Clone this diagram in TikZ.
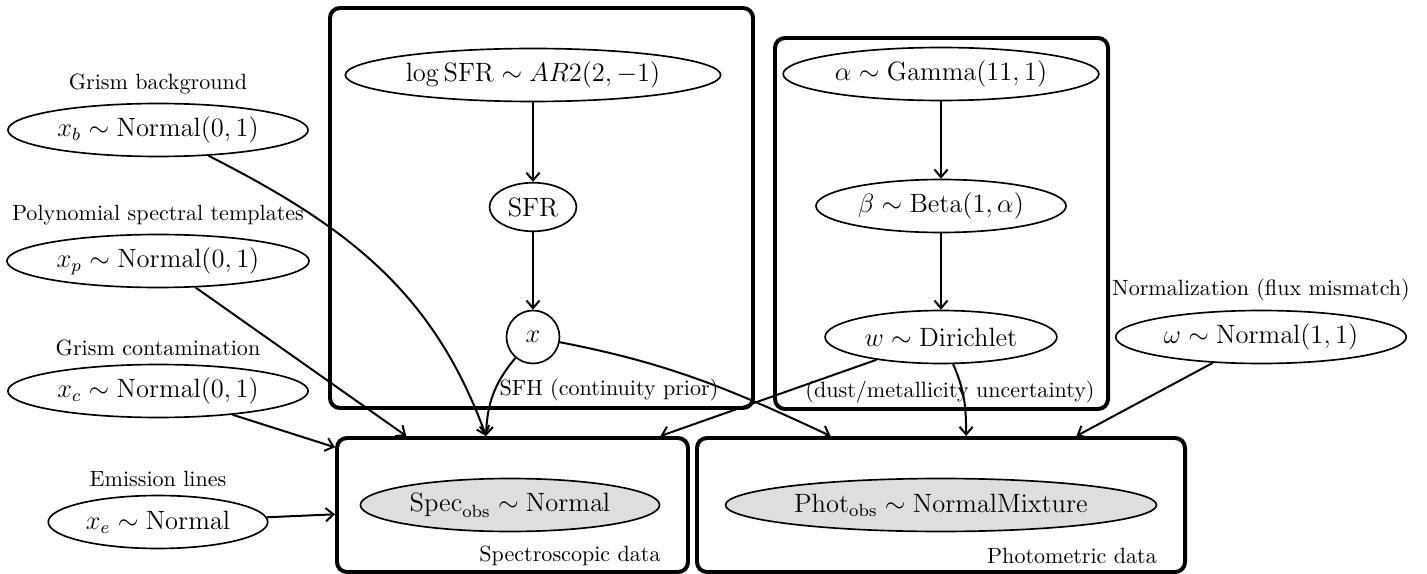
\documentclass[tikz,border=0pt]{standalone}
\usetikzlibrary{arrows.meta}
\usetikzlibrary{positioning}
\usetikzlibrary{fit}
\usetikzlibrary{shapes.geometric}

\tikzset{
	latent/.style={ellipse, draw, line width=0.75pt, inner xsep=2.5pt, inner ysep=1pt, minimum height=24pt, font=\large},
	observed/.style={latent, fill=black!13},
	plate/.style={draw, line width=1.8pt, rounded corners=4.5pt, inner sep=0pt},
	edge/.style={line width=0.9pt, -{Straight Barb[length=3.5pt,width=6pt]}},
	tag/.style={inner sep=2pt},
}

\begin{document}
\begin{tikzpicture}[x=0.453pt, y=0.453pt]

	\useasboundingbox (0,0) rectangle (1427,-574);

	%nuisance parameters on the left
	\node[latent] (xb) at (158,-130) {$x_b \sim \mathrm{Normal}(0,1)$};
	\node[latent] (xp) at (158,-261) {$x_p \sim \mathrm{Normal}(0,1)$};
	\node[latent] (xc) at (158,-391) {$x_c \sim \mathrm{Normal}(0,1)$};
	\node[latent] (xe) at (158,-522) {$x_e \sim \mathrm{Normal}$};
	\node[tag, above=1.5pt of xb] (xbLabel) {Grism background};
	\node[tag, above=1.5pt of xp] (xpLabel) {Polynomial spectral templates};
	\node[tag, above=1.5pt of xc] (xcLabel) {Grism contamination};
	\node[tag, above=1.5pt of xe] (xeLabel) {Emission lines};

	%star formation history plate
	\coordinate (sfhNW) at (330,-8);
	\coordinate (sfhSE) at (753,-408);
	\node[plate, fit=(sfhNW)(sfhSE)] (sfhPlate) {};
	\node[latent] (logsfr) at (533,-75) {$\log\mathrm{SFR} \sim AR2(2,-1)$};
	\node[latent, minimum height=22pt] (sfr) at (533,-207) {SFR};
	\node[latent, circle, inner sep=0pt, minimum size=24pt] (xnode) at (533,-337) {$x$};
	\node[tag] (sfhLabel) at (609,-390) {SFH (continuity prior)};

	%dust/metallicity plate
	\coordinate (dustNW) at (775,-38);
	\coordinate (dustSE) at (1108,-409);
	\node[plate, fit=(dustNW)(dustSE)] (dustPlate) {};
	\node[latent] (alpha) at (941,-74) {$\alpha \sim \mathrm{Gamma}(11,1)$};
	\node[latent] (beta) at (941,-206) {$\beta \sim \mathrm{Beta}(1,\alpha)$};
	\node[latent] (w) at (941,-337) {$w \sim \mathrm{Dirichlet}$};
	\node[tag] (dustLabel) at (950,-392) {(dust/metallicity uncertainty)};

	%flux normalization
	\node[latent] (omega) at (1261,-337) {$\omega \sim \mathrm{Normal}(1,1)$};
	\node[tag, above=1.5pt of omega] (omegaLabel) {Normalization (flux mismatch)};

	%data plates
	\coordinate (specNW) at (337,-438);
	\coordinate (specSE) at (688,-572);
	\node[plate, fit=(specNW)(specSE)] (specPlate) {};
	\node[observed] (spec) at (510,-505) {$\mathrm{Spec}_{\mathrm{obs}} \sim \mathrm{Normal}$};
	\node[tag] (specLabel) at (570,-556) {Spectroscopic data};
	\coordinate (photNW) at (697,-438);
	\coordinate (photSE) at (1185,-572);
	\node[plate, fit=(photNW)(photSE)] (photPlate) {};
	\node[observed] (phot) at (941,-505) {$\mathrm{Phot}_{\mathrm{obs}} \sim \mathrm{NormalMixture}$};
	\node[tag] (photLabel) at (1072,-556) {Photometric data};

	%edges inside the plates
	\draw[edge] (logsfr) -- (sfr);
	\draw[edge] (sfr) -- (xnode);
	\draw[edge] (alpha) -- (beta);
	\draw[edge] (beta) -- (w);

	%edges into the spectroscopic data
	\draw[edge] (xb) to[out=-27, in=110] (specPlate.111);
	\draw[edge] (xp) -- (specPlate.147);
	\draw[edge] (xc) -- (specPlate.162);
	\draw[edge] (xe) -- (specPlate.183);
	\draw[edge] (xnode) to[out=230, in=88] (specPlate.111);
	\draw[edge] (w) -- (specPlate.25);

	%edges into the photometric data
	\draw[edge] (xnode) to[out=-11, in=155] (photPlate.148);
	\draw[edge] (w) to[out=-66, in=90] (photPlate.70);
	\draw[edge] (omega) -- (photPlate.27);

\end{tikzpicture}
\end{document}
